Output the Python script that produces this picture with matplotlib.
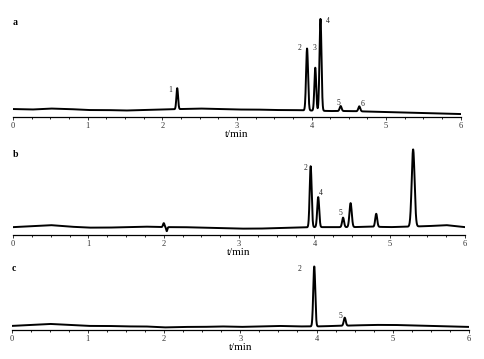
import matplotlib
matplotlib.use('Agg')
import matplotlib.pyplot as plt
import numpy as np

plt.rcParams['font.family'] = ['Liberation Serif', 'DejaVu Serif']

# baseline readings every 0.25 min (signal above axis)
base_t = np.arange(0, 6.01, 0.25)
base_a = [8, 7.5, 8.5, 8, 7, 7, 6.5, 7, 7.5, 8, 8.5, 8, 7.5, 7.5, 7, 7, 6.5, 6, 6, 5.5, 5, 4.5, 4, 3.5, 3]
base_b = [8, 9, 10, 8.5, 7.5, 7.5, 8, 8.5, 8, 8, 7.5, 7, 6.5, 6.5, 7, 7.5, 8, 8, 8, 8.5, 8, 8.5, 9, 10, 8]
base_c = [4, 5, 6, 5, 4, 4, 3.5, 3.5, 2.5, 3, 3, 3.5, 3, 3.5, 4, 3.5, 3.5, 4, 4.5, 5, 5, 4.5, 4, 3.5, 3]

# peak tables: retention time (min), height, width (sigma, min)
peaks_a_t = [2.20, 3.94, 4.05, 4.12, 4.39, 4.64]
peaks_a_h = [21, 62, 43, 92, 5, 5]
peaks_a_w = [0.011, 0.013, 0.012, 0.013, 0.013, 0.013]

peaks_b_t = [2.00, 2.04, 3.95, 4.05, 4.38, 4.48, 4.82, 5.31]
peaks_b_h = [4, -4, 61, 30, 9.5, 24, 13, 77]
peaks_b_w = [0.010, 0.008, 0.013, 0.013, 0.013, 0.015, 0.013, 0.019]

peaks_c_t = [3.97, 4.37]
peaks_c_h = [60, 8]
peaks_c_w = [0.013, 0.013]

# peak number labels: text, x, y
lab_a = [('1', 2.10, 27), ('2', 3.84, 69), ('3', 4.04, 69), ('4', 4.22, 96), ('5', 4.36, 14), ('6', 4.68, 13)]
lab_b = [('2', 3.88, 67), ('4', 4.08, 42), ('5', 4.34, 22)]
lab_c = [('2', 3.78, 61), ('5', 4.31, 14)]

t = np.linspace(0, 6, 3000)


def trace(base, pt, ph, pw):
    y = np.interp(t, base_t, base)
    for c, h, w in zip(pt, ph, pw):
        y = y + h * np.exp(-0.5 * ((t - c) / w) ** 2)
    return y


fig = plt.figure(figsize=(4.84, 3.59), dpi=100)

panels = [
    ('a', [0.027, 0.674, 0.925, 0.298], 107, base_a, peaks_a_t, peaks_a_h, peaks_a_w, lab_a, 95),
    ('b', [0.027, 0.345, 0.934, 0.265], 95, base_b, peaks_b_t, peaks_b_h, peaks_b_w, lab_b, 81),
    ('c', [0.024, 0.081, 0.945, 0.223], 80, base_c, peaks_c_t, peaks_c_h, peaks_c_w, lab_c, 61),
]

for name, rect, top, base, pt, ph, pw, labs, ly in panels:
    ax = fig.add_axes(rect)
    ax.patch.set_alpha(0)
    ax.plot(t, trace(base, pt, ph, pw), color='black', linewidth=1.4)
    ax.set_xlim(0, 6)
    ax.set_ylim(0, top)
    for s in ['top', 'right', 'left']:
        ax.spines[s].set_visible(False)
    ax.spines['bottom'].set_linewidth(0.9)
    ax.set_yticks([])
    ax.set_xticks(range(7))
    ax.set_xticks(np.arange(0, 6.01, 0.25), minor=True)
    ax.tick_params(axis='x', which='major', direction='out', length=2.5, width=0.7,
                   labelsize=6, pad=1, colors='#333333')
    ax.tick_params(axis='x', which='minor', direction='out', length=1.5, width=0.6)
    ax.set_xlabel('t/min', fontsize=8, labelpad=0)
    ax.text(0.0, ly, name, fontsize=7, fontweight='bold', ha='left', va='center')
    for txt, x, y in labs:
        ax.text(x, y, txt, fontsize=5.5, ha='center', va='center', color='#222222')

fig.savefig('out.png', dpi=100)
